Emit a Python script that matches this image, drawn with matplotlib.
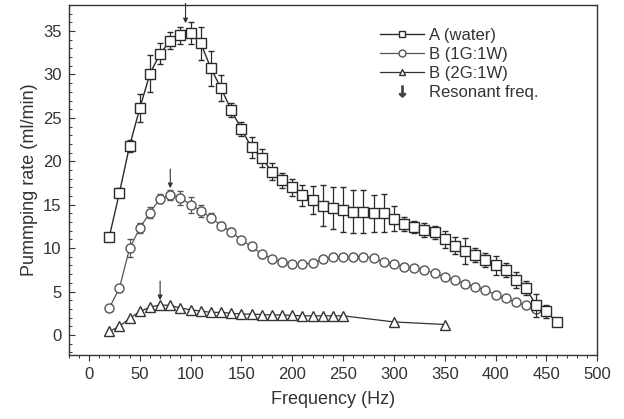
import matplotlib
matplotlib.use("Agg")
import matplotlib.pyplot as plt
from matplotlib.lines import Line2D
from matplotlib.ticker import MultipleLocator

plt.rcParams['font.family'] = ['Liberation Sans', 'DejaVu Sans']

# series A (water)
freq_a = [20, 30, 40, 50, 60, 70, 80, 90, 100, 110, 120, 130, 140, 150, 160,
          170, 180, 190, 200, 210, 220, 230, 240, 250, 260, 270, 280, 290, 300,
          310, 320, 330, 340, 350, 360, 370, 380, 390, 400, 410, 420, 430, 440,
          450, 460]
rate_a = [11.3, 16.4, 21.8, 26.1, 30.1, 32.4, 33.9, 34.5, 34.8, 33.6, 30.7,
          28.4, 25.9, 23.7, 21.6, 20.4, 18.8, 17.8, 17.0, 16.1, 15.5, 14.9,
          14.6, 14.4, 14.2, 14.2, 14.0, 14.0, 13.4, 12.8, 12.4, 12.1, 11.8,
          11.0, 10.3, 9.7, 9.2, 8.6, 8.0, 7.5, 6.3, 5.4, 3.4, 2.7, 1.5]
err_a = [0.3, 0.5, 0.7, 1.6, 2.1, 1.2, 1.0, 1.0, 1.3, 1.9, 2.0, 1.5, 0.8, 0.8,
         1.2, 1.0, 1.0, 0.9, 1.0, 1.2, 1.6, 2.4, 2.4, 2.6, 2.5, 2.5, 2.1, 2.2,
         1.4, 0.8, 0.7, 0.8, 0.8, 1.0, 1.0, 1.5, 0.8, 0.8, 1.1, 0.8, 0.9, 0.8,
         1.3, 0.7, 0.5]

# series B (1G:1W)
freq_b = [20, 30, 40, 50, 60, 70, 80, 90, 100, 110, 120, 130, 140, 150, 160,
          170, 180, 190, 200, 210, 220, 230, 240, 250, 260, 270, 280, 290, 300,
          310, 320, 330, 340, 350, 360, 370, 380, 390, 400, 410, 420, 430, 440]
rate_b = [3.1, 5.4, 10.0, 12.3, 14.1, 15.7, 16.1, 15.8, 15.0, 14.3, 13.5, 12.6,
          11.9, 10.9, 10.2, 9.3, 8.8, 8.4, 8.2, 8.15, 8.3, 8.7, 9.0, 9.0, 9.0,
          9.0, 8.9, 8.4, 8.2, 7.85, 7.7, 7.5, 7.1, 6.7, 6.3, 5.9, 5.5, 5.2,
          4.6, 4.2, 3.8, 3.4, 3.0]
err_b = [0.3, 0.4, 1.0, 0.6, 0.6, 0.5, 0.6, 0.8, 0.9, 0.7, 0.5, 0.4, 0.4, 0.4,
         0.4, 0.4, 0.3, 0.3, 0.3, 0.3, 0.3, 0.3, 0.3, 0.3, 0.3, 0.3, 0.3, 0.3,
         0.3, 0.3, 0.3, 0.3, 0.3, 0.3, 0.3, 0.3, 0.3, 0.3, 0.3, 0.3, 0.3, 0.3,
         0.3]

# series B (2G:1W)
freq_c = [20, 30, 40, 50, 60, 70, 80, 90, 100, 110, 120, 130, 140, 150, 160,
          170, 180, 190, 200, 210, 220, 230, 240, 250, 300, 350]
rate_c = [0.4, 1.0, 1.9, 2.7, 3.2, 3.45, 3.4, 3.1, 2.9, 2.75, 2.6, 2.6, 2.5,
          2.4, 2.4, 2.35, 2.3, 2.3, 2.25, 2.2, 2.2, 2.2, 2.2, 2.2, 1.5, 1.2]

# resonant frequency arrows: x, arrow tip, arrow tail
res_freq = [95, 80, 70]
res_tip = [35.9, 16.9, 4.0]
res_tail = [38.2, 19.1, 6.2]

labels = ['A (water)', 'B (1G:1W)', 'B (2G:1W)', 'Resonant freq.']

fig = plt.figure(figsize=(6.24, 4.19), dpi=100)
ax = fig.add_axes([0.110, 0.153, 0.847, 0.835])

dark = '#2a2a2a'
ax.errorbar(freq_a, rate_a, yerr=err_a, color=dark, lw=1.0, marker='s',
            ms=6.5, mfc='white', mec=dark, mew=1.0, capsize=2.5,
            elinewidth=0.9, zorder=3)
ax.errorbar(freq_b, rate_b, yerr=err_b, color='#555555', lw=0.9, marker='o',
            ms=6.5, mfc='white', mec='#555555', mew=1.0, capsize=2.5,
            elinewidth=0.8, zorder=2)
ax.plot(freq_c, rate_c, color='#333333', lw=0.9, marker='^', ms=6.5,
        mfc='white', mec='#333333', mew=1.0, zorder=2)

for x, tip, tail in zip(res_freq, res_tip, res_tail):
    ax.annotate('', xy=(x, tip), xytext=(x, tail),
                arrowprops=dict(arrowstyle='-|>', color='#333333', lw=0.8,
                                mutation_scale=7, shrinkA=0, shrinkB=0))

ax.set_xlim(-20, 500)
ax.set_ylim(-2.3, 38)
ax.xaxis.set_major_locator(MultipleLocator(50))
ax.xaxis.set_minor_locator(MultipleLocator(10))
ax.yaxis.set_major_locator(MultipleLocator(5))
ax.yaxis.set_minor_locator(MultipleLocator(1))
ax.tick_params(axis='x', which='major', direction='out', length=4,
               width=0.8, colors='#333333', labelsize=12, pad=5)
ax.tick_params(axis='x', which='minor', direction='out', length=2.5,
               width=0.7, colors='#333333')
ax.tick_params(axis='y', which='major', direction='in', length=4,
               width=0.8, colors='#333333', labelsize=12, pad=5)
ax.tick_params(axis='y', which='minor', direction='in', length=2.5,
               width=0.7, colors='#333333')
for s in ax.spines.values():
    s.set_color('#333333')
    s.set_linewidth(1.0)

ax.set_xlabel('Frequency (Hz)', fontsize=13, color='#333333', labelpad=6)
ax.set_ylabel('Pummping rate (ml/min)', fontsize=13, color='#333333',
              labelpad=4)

handles = [
    Line2D([], [], color=dark, lw=1.0, marker='s', ms=5, mfc='white',
           mec=dark),
    Line2D([], [], color='#555555', lw=0.9, marker='o', ms=5, mfc='white',
           mec='#555555'),
    Line2D([], [], color='#333333', lw=0.9, marker='^', ms=5, mfc='white',
           mec='#333333'),
    Line2D([], [], ls='none', marker=r'$\downarrow$', ms=8, color='#444444'),
]
leg = ax.legend(handles, labels, loc='upper left', bbox_to_anchor=(0.59, 0.935),
                frameon=False, fontsize=12, handlelength=2.6,
                handletextpad=0.3, labelspacing=0.25, borderaxespad=0,
                borderpad=0)
for t in leg.get_texts():
    t.set_color('#333333')

fig.savefig('out.png', dpi=100)
